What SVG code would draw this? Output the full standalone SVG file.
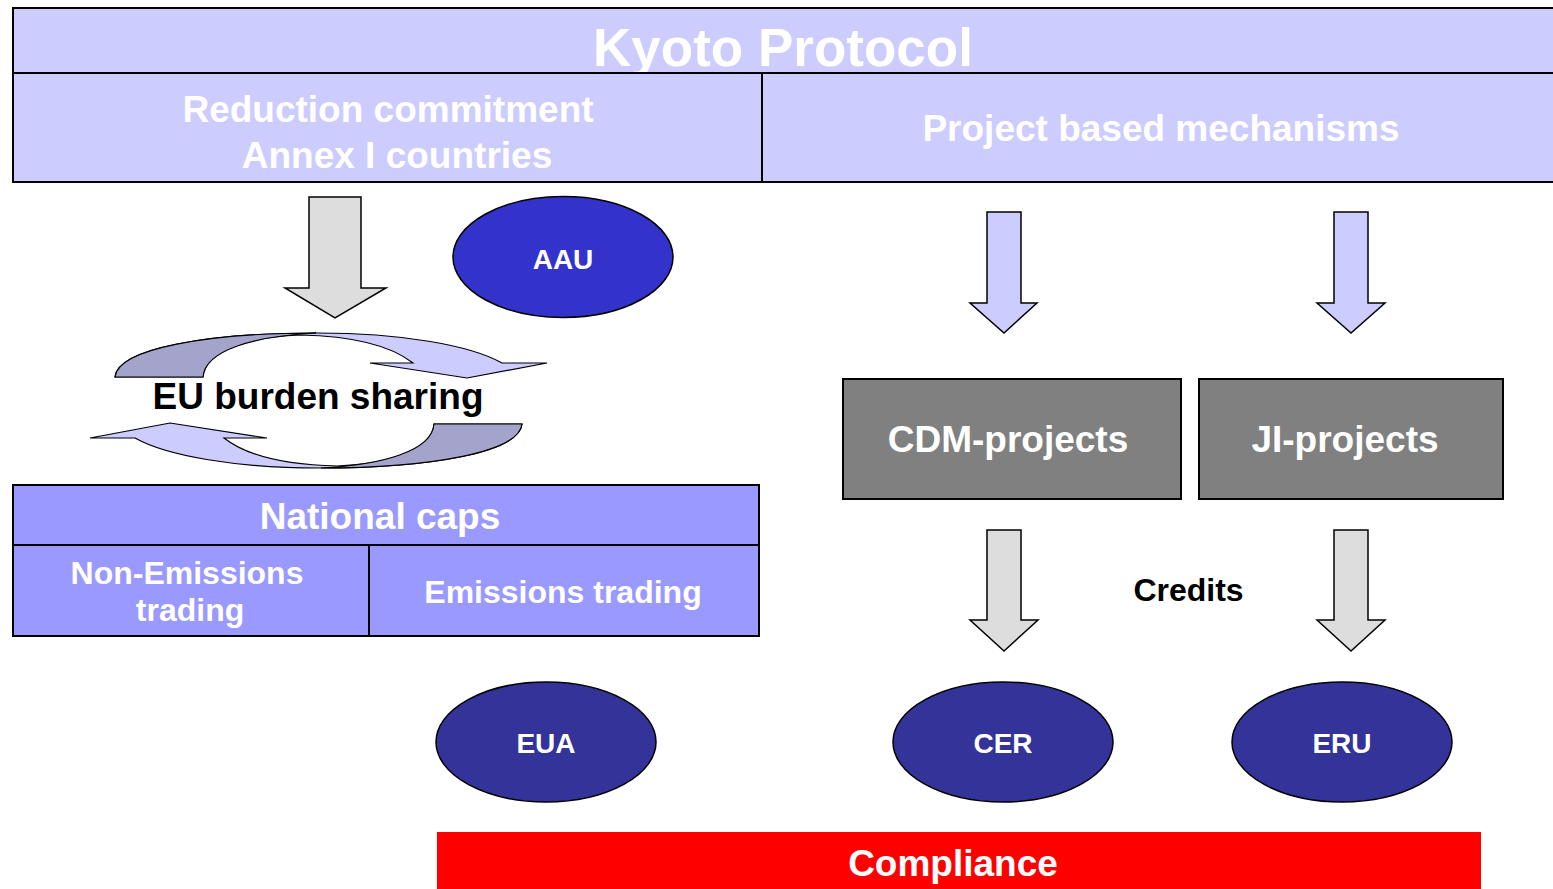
<svg xmlns="http://www.w3.org/2000/svg" width="1553" height="889" viewBox="0 0 1553 889">
<style>
text{font-family:"Liberation Sans",Arial,sans-serif;font-weight:bold;text-anchor:middle}
.w{fill:#fff}
.k{fill:#000}
.box{stroke:#000;stroke-width:2}
.hdr{fill:#CCCCFF}
.nat{fill:#9999FF}
.proj{fill:#808080}
.ell{stroke:#000;stroke-width:1.5}
.garrow{fill:#DDDDDD;stroke:#000;stroke-width:1.5;stroke-linejoin:miter}
.barrow{fill:#CCCCFF;stroke:#000;stroke-width:1.5}
.cyc{stroke:#000;stroke-width:1.2}
</style>
<rect width="1553" height="889" fill="#fff"/>
<g id="kyoto">
<rect class="box hdr" x="13" y="8" width="1545" height="65"/>
<text class="w" x="783" y="66" font-size="53">Kyoto Protocol</text>
</g>
<g id="reduction">
<rect class="box hdr" x="13" y="73" width="749" height="109"/>
<text class="w" x="388" y="122" font-size="37">Reduction commitment</text>
<text class="w" x="397" y="168" font-size="37">Annex I countries</text>
</g>
<g id="project-based">
<rect class="box hdr" x="762" y="73" width="796" height="109"/>
<text class="w" x="1161" y="141" font-size="37">Project based mechanisms</text>
</g>
<g id="aau">
<ellipse class="ell" cx="563" cy="257" rx="110" ry="60.5" fill="#3333CC"/>
<text class="w" x="563" y="269" font-size="28">AAU</text>
</g>
<g id="eu-burden">
<g id="cycle-upper">
<path class="cyc" fill="#CCCCFF" d="M115,377 C118,348 210,333 318,333 C400,333 470,345 502,363 L547,363 L467,378 L370,363 L413,363 C390,345 350,336 300,335 C250,337 205,350 203,377 Z"/>
<path class="cyc" fill="#A3A3CC" d="M115,377 C118,348 210,333 316,333 C255,336 205,350 203,377 Z"/>
</g>
<g transform="rotate(180 318.5 400.5)">
<path class="cyc" fill="#CCCCFF" d="M115,377 C118,348 210,333 318,333 C400,333 470,345 502,363 L547,363 L467,378 L370,363 L413,363 C390,345 350,336 300,335 C250,337 205,350 203,377 Z"/>
<path class="cyc" fill="#A3A3CC" d="M115,377 C118,348 210,333 316,333 C255,336 205,350 203,377 Z"/>
</g>
<text class="k" x="318" y="409" font-size="37">EU burden sharing</text>
</g>
<g id="national-caps">
<rect class="box nat" x="13" y="485" width="746" height="60"/>
<text class="w" x="380" y="529" font-size="37">National caps</text>
</g>
<g id="non-emissions">
<rect class="box nat" x="13" y="545" width="356" height="91"/>
<text class="w" x="187" y="584" font-size="32">Non-Emissions</text>
<text class="w" x="190" y="621" font-size="32">trading</text>
</g>
<g id="emissions-trading">
<rect class="box nat" x="369" y="545" width="390" height="91"/>
<text class="w" x="563" y="603" font-size="32">Emissions trading</text>
</g>
<g id="cdm">
<rect class="box proj" x="843" y="379" width="338" height="120"/>
<text class="w" x="1008" y="452" font-size="37">CDM-projects</text>
</g>
<g id="ji">
<rect class="box proj" x="1199" y="379" width="304" height="120"/>
<text class="w" x="1345" y="452" font-size="37">JI-projects</text>
</g>
<g id="credits">
<text class="k" x="1188.5" y="601" font-size="32">Credits</text>
</g>
<g id="eua">
<ellipse class="ell" cx="546" cy="742" rx="110" ry="60" fill="#333399"/>
<text class="w" x="546" y="753" font-size="28">EUA</text>
</g>
<g id="cer">
<ellipse class="ell" cx="1003" cy="742" rx="110" ry="60" fill="#333399"/>
<text class="w" x="1003" y="753" font-size="28">CER</text>
</g>
<g id="eru">
<ellipse class="ell" cx="1342" cy="742" rx="110" ry="60" fill="#333399"/>
<text class="w" x="1342" y="753" font-size="28">ERU</text>
</g>
<g id="compliance">
<rect x="437" y="832" width="1044" height="57" fill="#FF0000"/>
<text class="w" x="953" y="876" font-size="37">Compliance</text>
</g>
<g id="connectors">
<path class="garrow" d="M309,197 H361 V288 H386 L335,318 L285,288 H309 Z"/>
<path class="barrow" d="M987,212 H1021 V303 H1037 L1004,333 L970,303 H987 Z"/>
<path class="barrow" d="M1334,212 H1368 V303 H1385 L1351,333 L1317,303 H1334 Z"/>
<path class="garrow" d="M987,530 H1021 V620 H1038 L1004,651 L970,620 H987 Z"/>
<path class="garrow" d="M1334,530 H1368 V620 H1385 L1351,651 L1317,620 H1334 Z"/>
</g>
</svg>
